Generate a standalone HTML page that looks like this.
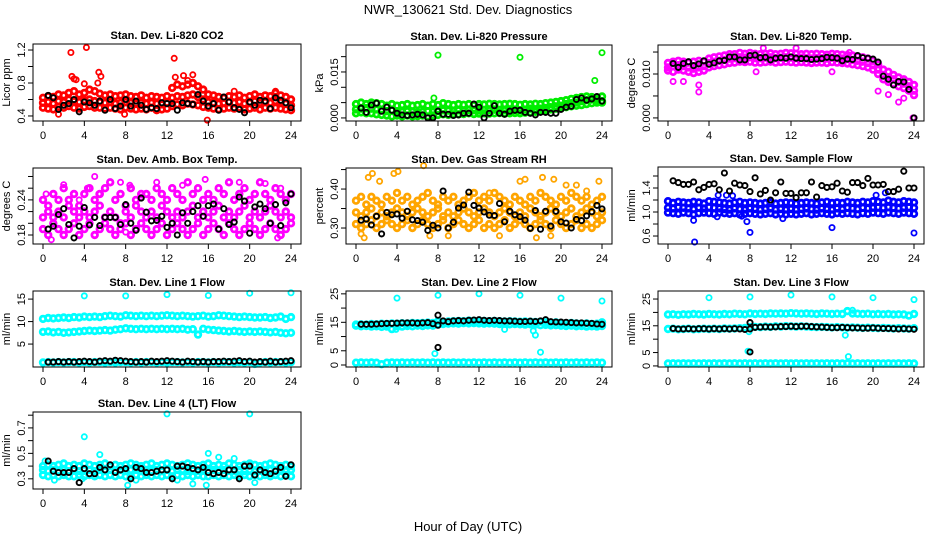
<!DOCTYPE html>
<html><head><meta charset="utf-8"><style>
html,body{margin:0;padding:0;background:#fff;}
svg{display:block;font-family:"Liberation Sans",sans-serif;}
</style></head><body>
<svg id="chart" width="936" height="540" viewBox="0 0 936 540" xmlns="http://www.w3.org/2000/svg">
<text x="468" y="14" text-anchor="middle" font-size="13">NWR_130621  Std. Dev. Diagnostics</text>
<text x="468" y="531" text-anchor="middle" font-size="13">Hour of Day (UTC)</text>
</svg>
<script>
// ---- data ----
const xTicks = [0,4,8,12,16,20,24];

const co2Hi = [0.62,0.64,0.63,0.66,0.65,0.68,0.7,0.66,0.68,0.72,0.7,0.67,0.65,0.66,0.64,0.65,0.66,0.64,0.63,0.65,0.62,0.64,0.63,0.62,0.64,0.74,0.78,0.76,0.78,0.8,0.76,0.72,0.66,0.65,0.63,0.62,0.64,0.63,0.65,0.62,0.64,0.66,0.63,0.65,0.64,0.68,0.65,0.63,0.6];
const co2Mid = [0.56,0.57,0.55,0.58,0.57,0.6,0.58,0.57,0.59,0.6,0.58,0.57,0.56,0.57,0.55,0.56,0.57,0.56,0.55,0.56,0.55,0.56,0.55,0.54,0.56,0.62,0.64,0.63,0.65,0.66,0.63,0.6,0.57,0.56,0.55,0.56,0.57,0.56,0.57,0.55,0.56,0.58,0.56,0.57,0.56,0.58,0.57,0.55,0.53];
const co2Lo = [0.5,0.49,0.48,0.51,0.5,0.52,0.5,0.49,0.51,0.52,0.5,0.5,0.49,0.5,0.49,0.48,0.5,0.49,0.48,0.49,0.48,0.5,0.47,0.48,0.49,0.52,0.54,0.53,0.55,0.54,0.53,0.51,0.5,0.49,0.48,0.49,0.5,0.49,0.5,0.48,0.49,0.5,0.48,0.5,0.49,0.5,0.49,0.48,0.47];
const co2OutH = [2.7,4.2,5.4,5.6,2.8,12.7,12.8,13.6,14.5,4,5.3,15.9,1.5,7.9,18.5,22.5,3,3.2,14];
const co2OutV = [1.17,1.23,0.93,0.88,0.88,1.1,0.87,0.89,0.9,0.79,0.8,0.35,0.42,0.42,0.7,0.7,0.85,0.84,0.83];
const co2Blk = [0.65,0.62,0.48,0.53,0.55,0.6,0.45,0.57,0.56,0.53,0.58,0.47,0.6,0.49,0.52,0.6,0.52,0.58,0.53,0.48,0.5,0.49,0.56,0.55,0.55,0.47,0.56,0.55,0.54,0.66,0.58,0.52,0.55,0.47,0.63,0.57,0.5,0.48,0.44,0.57,0.53,0.59,0.58,0.49,0.62,0.59,0.56,0.5];

const prHi = [0.0045,0.005,0.0045,0.005,0.0048,0.0045,0.004,0.0045,0.004,0.0042,0.0045,0.004,0.0042,0.0045,0.004,0.0045,0.0042,0.0048,0.0045,0.0042,0.0045,0.0043,0.0045,0.0042,0.0045,0.0044,0.0046,0.0045,0.0044,0.0045,0.0046,0.0045,0.0043,0.0045,0.0044,0.0046,0.0045,0.0048,0.005,0.0052,0.0055,0.0058,0.0062,0.0065,0.0068,0.007,0.0068,0.0065,0.007];
const prMid = [0.0028,0.003,0.0032,0.003,0.0028,0.0025,0.0022,0.0025,0.0022,0.002,0.0022,0.002,0.0018,0.002,0.0022,0.002,0.0022,0.0025,0.0024,0.0022,0.0025,0.0024,0.0026,0.0025,0.0024,0.0026,0.0025,0.0027,0.0026,0.0025,0.0027,0.0026,0.0025,0.0027,0.003,0.0028,0.003,0.0032,0.0035,0.0038,0.004,0.0045,0.0048,0.005,0.0055,0.0058,0.006,0.0058,0.0055];
const prLo = [0.0015,0.0018,0.0015,0.0015,0.0012,0.001,0.0008,0.0005,0.0008,0.0005,0.0008,0.0005,0.0006,0.0008,0.0005,0.0008,0.001,0.0012,0.001,0.0012,0.0012,0.0013,0.0015,0.0013,0.0014,0.0015,0.0014,0.0015,0.0016,0.0014,0.0015,0.0016,0.0015,0.0017,0.0018,0.002,0.0022,0.0025,0.0028,0.003,0.0032,0.0035,0.0038,0.004,0.0042,0.0045,0.0048,0.005,0.005];
const prOutH = [8,16,23.3,24,7.6];
const prOutV = [0.0205,0.0198,0.0122,0.0213,0.0065];
const prBlk = [0.0032,0.0018,0.0042,0.0048,0.0022,0.0035,0.0025,0.0015,0.001,0.0008,0.001,0.0012,0.001,0,0,0.0022,0.0012,0.0012,0.0008,0.001,0.0015,0.0015,0.0045,0.0035,0,0.0015,0.004,0.0015,0.0012,0.0022,0.0025,0.0025,0.0018,0.0015,0.001,0.0018,0.0018,0.0015,0.0015,0.0028,0.0035,0.0038,0.006,0.0065,0.0058,0.0062,0.007,0.0055];

const tmHi = [0.0125,0.0128,0.013,0.0128,0.0126,0.0128,0.013,0.0128,0.0135,0.0138,0.014,0.0142,0.0145,0.0145,0.0148,0.0146,0.0148,0.0146,0.0145,0.0146,0.0147,0.0145,0.0146,0.0148,0.0147,0.0146,0.0145,0.0146,0.0145,0.0146,0.0145,0.0144,0.0146,0.0145,0.0144,0.0143,0.0142,0.014,0.0138,0.0135,0.013,0.0122,0.011,0.0105,0.0098,0.0092,0.0088,0.0082,0.0075];
const tmMid = [0.0115,0.0118,0.012,0.0118,0.0115,0.0112,0.0115,0.0118,0.0125,0.0128,0.013,0.0132,0.0135,0.0136,0.0138,0.0137,0.0138,0.0136,0.0136,0.0137,0.0138,0.0136,0.0137,0.0138,0.0137,0.0136,0.0137,0.0136,0.0135,0.0136,0.0136,0.0135,0.0137,0.0136,0.0135,0.0134,0.0132,0.013,0.0128,0.0125,0.012,0.011,0.0098,0.0092,0.0088,0.0082,0.0078,0.0072,0.0062];
const tmLo = [0.0108,0.0105,0.011,0.0108,0.0105,0.0102,0.0105,0.0108,0.0115,0.0118,0.012,0.0122,0.0125,0.0126,0.0128,0.0127,0.0128,0.0126,0.0126,0.0127,0.0128,0.0126,0.0127,0.0128,0.0127,0.0126,0.0127,0.0126,0.0125,0.0126,0.0126,0.0125,0.0127,0.0126,0.0125,0.0124,0.0122,0.012,0.0118,0.0115,0.011,0.01,0.0088,0.0082,0.0078,0.0072,0.0068,0.0062,0.0052];
const tmOutH = [0.5,1.5,3.0,3.0,8.6,9.3,12.5,16,20.5,21.5,22.5,23,24,23.9,17.7];
const tmOutV = [0.0083,0.0083,0.0059,0.0075,0.0105,0.0159,0.0159,0.0105,0.0061,0.0053,0.0036,0.0045,0,0,0.0149];
const tmBlk = [0.0124,0.0115,0.0124,0.0128,0.0119,0.0123,0.013,0.0122,0.0125,0.013,0.0131,0.0139,0.0139,0.0132,0.0132,0.0142,0.0143,0.0137,0.0138,0.0132,0.0136,0.0137,0.0136,0.0139,0.0136,0.0135,0.0135,0.0133,0.0134,0.0135,0.0138,0.0137,0.0136,0.013,0.0134,0.0133,0.0142,0.0137,0.0136,0.0134,0.0127,0.0095,0.0088,0.0075,0.0083,0.0082,0.0065,0.0];

const ambHi = [0.24,0.23,0.25,0.24,0.26,0.24,0.25,0.23,0.25,0.26,0.24,0.25,0.26,0.27,0.24,0.25,0.23,0.26,0.24,0.25,0.25,0.24,0.26,0.25,0.24,0.26,0.25,0.24,0.27,0.25,0.26,0.24,0.25,0.24,0.26,0.25,0.27,0.24,0.25,0.26,0.24,0.25,0.27,0.25,0.24,0.26,0.25,0.24,0.25];
const ambMid = [0.21,0.22,0.21,0.22,0.21,0.23,0.22,0.21,0.22,0.21,0.22,0.23,0.21,0.22,0.21,0.2,0.22,0.21,0.23,0.22,0.21,0.22,0.21,0.23,0.22,0.21,0.22,0.21,0.22,0.23,0.21,0.22,0.21,0.22,0.23,0.21,0.22,0.21,0.22,0.23,0.21,0.22,0.21,0.22,0.23,0.22,0.21,0.22,0.21];
const ambLo = [0.19,0.18,0.2,0.19,0.18,0.19,0.2,0.18,0.19,0.2,0.18,0.19,0.2,0.19,0.18,0.19,0.2,0.18,0.19,0.2,0.19,0.18,0.19,0.2,0.18,0.19,0.2,0.19,0.18,0.19,0.2,0.18,0.19,0.2,0.19,0.18,0.2,0.19,0.18,0.19,0.2,0.19,0.18,0.19,0.2,0.19,0.18,0.19,0.2];
const ambOutH = [0.3,0.8,2,4.3,5,5.4,7.5,8.4,11,13.5,15.7,19,21.5,22.7,23,8,3.5,9.5,14.5,18.5];
const ambOutV = [0.25,0.172,0.266,0.26,0.28,0.25,0.27,0.265,0.27,0.265,0.275,0.27,0.268,0.175,0.26,0.185,0.24,0.245,0.25,0.24];
const ambBlk = [0.19,0.195,0.215,0.225,0.198,0.175,0.195,0.227,0.197,0.21,0.196,0.21,0.21,0.21,0.198,0.232,0.2,0.188,0.243,0.219,0.204,0.205,0.212,0.193,0.2,0.18,0.218,0.2,0.22,0.23,0.212,0.23,0.233,0.19,0.225,0.198,0.202,0.245,0.238,0.183,0.228,0.233,0.225,0.2,0.232,0.196,0.235,0.25];

const rhHi = [0.37,0.38,0.36,0.38,0.37,0.36,0.38,0.37,0.39,0.37,0.38,0.36,0.37,0.38,0.39,0.37,0.36,0.38,0.37,0.38,0.36,0.37,0.38,0.39,0.37,0.38,0.37,0.39,0.38,0.37,0.36,0.38,0.37,0.36,0.38,0.37,0.39,0.38,0.37,0.36,0.38,0.37,0.39,0.38,0.37,0.38,0.36,0.37,0.38];
const rhMid = [0.34,0.33,0.34,0.35,0.33,0.34,0.33,0.34,0.35,0.34,0.33,0.34,0.35,0.34,0.33,0.34,0.35,0.33,0.34,0.33,0.34,0.35,0.34,0.33,0.34,0.35,0.34,0.33,0.34,0.35,0.34,0.33,0.34,0.33,0.35,0.34,0.33,0.34,0.35,0.34,0.33,0.34,0.35,0.33,0.34,0.35,0.34,0.33,0.34];
const rhLo = [0.31,0.3,0.31,0.32,0.3,0.31,0.32,0.31,0.3,0.31,0.32,0.3,0.31,0.32,0.31,0.3,0.31,0.32,0.3,0.31,0.32,0.31,0.3,0.31,0.32,0.3,0.31,0.3,0.31,0.32,0.3,0.31,0.32,0.31,0.3,0.31,0.32,0.31,0.3,0.32,0.31,0.3,0.31,0.32,0.3,0.31,0.3,0.31,0.32];
const rhOutH = [0.5,0.8,1.2,1.6,2.3,3.7,4.1,6.6,7.2,9,13,16,16.5,17.6,18.2,19.3,20.5,21.5,22.5,23.7,14,19];
const rhOutV = [0.285,0.275,0.43,0.44,0.42,0.44,0.445,0.46,0.28,0.28,0.39,0.42,0.425,0.275,0.43,0.425,0.41,0.41,0.395,0.42,0.28,0.28];
const rhBlk = [0.32,0.323,0.308,0.33,0.285,0.34,0.334,0.336,0.325,0.343,0.321,0.319,0.315,0.294,0.307,0.3,0.395,0.3,0.315,0.351,0.359,0.392,0.358,0.351,0.341,0.333,0.332,0.363,0.316,0.343,0.334,0.329,0.32,0.299,0.345,0.297,0.343,0.305,0.343,0.316,0.313,0.3,0.322,0.319,0.331,0.342,0.358,0.349];

const sfHi = [1.18,1.15,1.17,1.16,1.15,1.17,1.16,1.14,1.18,1.17,1.16,1.15,1.14,1.16,1.17,1.15,1.16,1.15,1.14,1.15,1.16,1.14,1.15,1.16,1.15,1.14,1.15,1.16,1.15,1.14,1.16,1.17,1.15,1.16,1.15,1.17,1.16,1.15,1.17,1.16,1.18,1.17,1.16,1.19,1.17,1.16,1.18,1.17,1.16];
const sfMid = [1.07,1.06,1.08,1.07,1.06,1.05,1.07,1.06,1.08,1.07,1.06,1.05,1.04,1.06,1.05,1.04,1.06,1.05,1.04,1.05,1.06,1.04,1.05,1.04,1.05,1.04,1.05,1.06,1.05,1.04,1.06,1.05,1.04,1.06,1.05,1.07,1.06,1.05,1.07,1.06,1.07,1.08,1.07,1.08,1.07,1.06,1.07,1.08,1.07];
const sfLo = [0.99,0.98,0.97,0.99,0.98,0.96,0.98,0.99,0.98,0.97,0.99,0.98,0.97,0.98,0.96,0.97,0.98,0.97,0.96,0.97,0.98,0.96,0.97,0.96,0.97,0.96,0.97,0.98,0.96,0.97,0.98,0.97,0.96,0.98,0.97,0.98,0.97,0.96,0.98,0.97,0.99,0.98,0.97,0.99,0.98,0.97,0.99,0.98,0.97];
const sfOutH = [2.6,2.5,7.7,8,16,24,4.8,7.2,4.9,5.7,6.3,21.2,20.3,11.2];
const sfOutV = [0.5,0.86,0.84,0.66,0.74,0.65,0.92,0.93,1.28,1.28,1.27,1.32,1.28,0.89];
const sfBlk = [1.52,1.49,1.46,1.46,1.5,1.37,1.41,1.46,1.47,1.37,1.65,1.35,1.48,1.45,1.44,1.34,1.57,1.3,1.36,1.2,1.32,1.5,1.31,1.31,1.24,1.32,1.32,1.5,1.25,1.44,1.41,1.42,1.48,1.35,1.33,1.49,1.49,1.44,1.56,1.45,1.45,1.46,1.34,1.34,1.38,1.68,1.4,1.4];

const l1Hi = [10.6,10.8,10.7,10.8,10.9,10.8,11,10.9,11.1,11,11.1,11,11.2,11.3,11.2,11.1,11.4,11.3,11.2,11.3,11.2,11.3,11.2,11.3,11.4,11.3,11.2,11.3,11.2,11.1,11.2,11.3,11.1,11.2,11.4,11.3,11.2,11.1,11,11.1,11,10.9,10.9,11,10.8,10.9,11.1,10.6,11];
const l1Mid = [7.7,7.8,7.6,7.7,7.5,7.6,7.7,7.8,7.9,8,7.9,8,8.1,8,8.2,8.3,8.5,8.4,8.3,8.4,8.3,8.4,8.3,8.4,8.3,8.4,8.3,8.4,8.2,8.3,7.1,8.4,8.2,8.1,8,7.9,7.8,7.9,7.8,7.7,7.8,7.7,7.8,7.7,7.6,7.7,7.5,7.4,7.5];
const l1Lo = [0.9,1.0,0.9,1.0,0.9,1.0,1.0,0.9,1.0,0.9,1.0,1.0,0.9,1.0,0.9,1.0,1.0,0.9,1.0,0.9,1.0,1.0,0.9,1.0,0.9,1.0,1.0,0.9,1.0,0.9,1.0,1.0,0.9,1.0,0.9,1.0,1.0,0.9,1.0,0.9,1.0,0.6,0.9,1.0,0.9,1.0,1.0,0.9,1.0];
const l1OutH = [4,8,12,16,20,24];
const l1OutV = [15.7,15.7,16,15.8,16.3,16.4];
const l1Blk = [1.0,1.0,1.1,1.0,1.1,1.0,1.1,1.2,1.1,1.0,1.2,1.3,1.2,1.4,1.3,1.2,1.1,1.0,1.1,1.0,1.2,1.1,1.2,1.3,1.2,1.1,1.0,1.2,1.1,1.0,1.1,1.0,1.1,1.1,1.2,1.1,1.2,1.3,1.1,1.2,1.0,1.1,1.0,1.2,1.0,1.1,1.2,1.3];

const l2Hi = [14.2,14.3,14.2,14.4,14.3,14.5,14.4,14.6,14.5,14.7,14.6,14.8,14.7,14.8,14.9,14.8,15.4,15.2,15.3,15.4,15.5,15.4,15.6,15.5,15.6,15.5,15.4,15.5,15.4,15.3,15.4,15.3,15.2,15.3,15.2,15.1,15.2,15.0,14.9,15.0,14.8,14.7,14.8,14.6,14.5,14.6,14.4,14.5,15.0];
const l2Mid = [13.8,13.6,13.7,13.5,13.6,13.4,13.5,12.6,13.6,13.5,13.7,13.6,13.8,13.7,13.9,13.8,14.2,14.4,14.5,14.6,14.5,14.7,14.6,14.7,14.6,14.5,14.6,14.5,14.4,14.5,14.3,14.4,14.3,14.2,14.3,14.2,14.0,14.1,13.9,14.0,13.8,13.7,13.8,13.6,13.7,13.5,13.6,13.5,13.7];
const l2Lo = [0.8,0.9,0.8,0.9,0.8,0.3,0.8,0.9,0.8,0.9,0.8,0.9,0.8,0.9,0.8,0.9,0.8,0.9,0.8,0.9,0.8,0.9,0.8,0.9,0.8,0.9,0.8,0.9,0.8,0.9,0.8,0.9,0.8,0.9,0.8,0.9,0.8,0.9,0.8,0.9,0.8,0.9,0.8,0.9,0.8,0.9,0.8,0.9,0.8];
const l2OutH = [4,8,12,16,20,24,7.7,18,17.5,17.3,14.5,3.9];
const l2OutV = [23.5,24.5,25,24.5,23.5,22.5,4,4.5,10.5,12,12.5,12.5];
const l2Blk = [14.3,14.3,14.3,14.4,14.5,14.6,14.6,14.7,14.8,14.8,14.8,14.7,14.8,14.9,14.5,14,15.5,15.2,15.5,15.6,15.5,15.7,15.8,15.9,15.7,15.6,15.7,15.6,15.5,15.5,15.4,15.3,15.3,15.4,15.3,15.5,15.9,15.2,15.1,15.1,15,14.9,14.8,14.8,14.7,14.6,14.4,14.3];
const l2BlkOutH = [8,8];
const l2BlkOutV = [17.5,6.2];

const l3Hi = [19.2,19.3,19.1,19.3,19.2,19.4,19.3,19.2,19.4,19.3,19.2,19.4,19.3,19.5,19.4,19.3,19.6,19.4,19.5,19.4,19.6,19.5,19.6,19.5,19.7,19.6,19.5,19.6,19.5,19.4,19.6,19.5,19.4,19.5,19.4,20.5,19.6,19.5,19.4,19.5,19.3,19.4,19.3,19.4,19.2,19.3,19.2,18.8,19.4];
const l3Mid = [13.8,13.9,13.7,13.8,13.9,13.7,13.8,13.9,13.8,13.9,13.8,14.0,13.9,14.0,14.1,14.2,14.5,14.6,14.5,14.7,14.6,14.8,14.7,14.9,14.8,14.7,14.8,14.7,14.6,14.5,14.6,14.5,14.4,14.5,14.4,14.3,14.4,14.3,14.2,14.3,14.2,14.1,14.2,14.1,14.0,14.1,14.0,13.9,14.1];
const l3Lo = [0.9,1.0,0.9,1.0,0.9,1.0,0.9,1.0,0.9,1.0,0.9,1.0,0.9,1.0,0.9,1.0,0.9,1.0,0.9,1.0,0.9,1.0,0.9,1.0,0.9,1.0,0.9,1.0,0.9,1.0,0.9,1.0,0.9,1.0,0.9,1.0,0.9,1.0,0.9,1.0,0.9,1.0,0.9,1.0,0.9,1.0,0.9,1.0,0.9];
const l3OutH = [4,8,12,16,20,24,7.8,7.9,17.3,17.6,17.5,18];
const l3OutV = [25.5,25.8,26.5,25.8,25.5,24.8,5.5,12.8,11.5,3.5,20.5,20.8];
const l3Blk = [14.0,13.8,13.8,13.9,13.8,13.9,13.9,13.8,13.9,13.8,13.9,13.8,13.9,13.8,13.6,13.8,14.4,14.5,14.6,14.5,14.6,14.7,14.7,14.8,14.7,14.8,14.8,14.7,14.6,14.5,14.4,14.3,14.3,14.4,14.3,14.2,14.2,14.1,14.1,14.2,14.1,14.0,14.0,13.9,13.8,13.9,13.8,13.7];
const l3BlkOutH = [8,8];
const l3BlkOutV = [16.2,5.2];

const l4Hi = [0.4,0.41,0.4,0.41,0.42,0.4,0.41,0.4,0.42,0.41,0.4,0.41,0.42,0.4,0.41,0.4,0.41,0.42,0.41,0.4,0.41,0.42,0.4,0.41,0.42,0.41,0.4,0.41,0.42,0.41,0.4,0.41,0.42,0.4,0.41,0.4,0.42,0.41,0.4,0.41,0.42,0.41,0.4,0.41,0.42,0.41,0.4,0.41,0.4];
const l4Mid = [0.37,0.36,0.37,0.36,0.37,0.36,0.37,0.36,0.37,0.37,0.36,0.37,0.36,0.37,0.36,0.37,0.36,0.37,0.37,0.36,0.37,0.36,0.37,0.36,0.37,0.36,0.37,0.37,0.36,0.37,0.36,0.37,0.36,0.37,0.36,0.37,0.37,0.36,0.37,0.36,0.37,0.36,0.37,0.36,0.37,0.36,0.37,0.36,0.37];
const l4Lo = [0.33,0.32,0.33,0.32,0.33,0.32,0.32,0.33,0.32,0.33,0.32,0.33,0.32,0.33,0.32,0.33,0.32,0.32,0.33,0.32,0.33,0.32,0.33,0.32,0.33,0.32,0.33,0.32,0.33,0.32,0.33,0.32,0.32,0.33,0.32,0.33,0.32,0.33,0.32,0.33,0.32,0.33,0.32,0.33,0.32,0.33,0.32,0.33,0.32];
const l4OutH = [4,12,20,5.5,16,17,18.5,0.2,8.2,14.5,15.8,1.1,3.8,9,13,20.5];
const l4OutV = [0.63,0.81,0.81,0.49,0.5,0.47,0.46,0.44,0.25,0.26,0.25,0.29,0.3,0.29,0.29,0.27];
const l4Blk = [0.44,0.36,0.35,0.35,0.35,0.38,0.27,0.38,0.34,0.34,0.39,0.37,0.41,0.35,0.37,0.38,0.3,0.39,0.38,0.35,0.35,0.36,0.37,0.37,0.3,0.4,0.4,0.39,0.38,0.37,0.39,0.35,0.34,0.35,0.34,0.37,0.37,0.3,0.4,0.4,0.33,0.37,0.35,0.34,0.36,0.39,0.32,0.41];

// ---- panels ----
const panels = [
 {id:'co2', title:'Stan. Dev. Li-820 CO2', ylab:'Licor ppm', box:[33,44,301,121], dom:[0.339,1.273], ticks:[0.4,0.6,0.8,1.0,1.2], labs:[0.4,0.8,1.2], dec:1, col:'#ff0000', series:[co2Hi,co2Mid,co2Lo], oh:co2OutH, ov:co2OutV, blk:co2Blk},
 {id:'pressure', title:'Stan. Dev. Li-820 Pressure', ylab:'kPa', box:[346,45,612,121], dom:[-0.001,0.0238], ticks:[0,0.005,0.01,0.015,0.02], labs:[0,0.015], dec:3, col:'#00ee00', series:[prHi,prMid,prLo], oh:prOutH, ov:prOutV, blk:prBlk},
 {id:'temp', title:'Stan. Dev. Li-820 Temp.', ylab:'degrees C', box:[658,45,924,121], dom:[-0.0007,0.0166], ticks:[0,0.005,0.01,0.015], labs:[0,0.01], dec:3, col:'#ff00ff', series:[tmHi,tmMid,tmLo], oh:tmOutH, ov:tmOutV, blk:tmBlk},
 {id:'amb-box-temp', title:'Stan. Dev. Amb. Box Temp.', ylab:'degrees C', box:[33,168,301,244], dom:[0.1646,0.2945], ticks:[0.18,0.2,0.22,0.24,0.26,0.28], labs:[0.18,0.24], dec:2, col:'#ff00ff', series:[ambHi,ambMid,ambLo], oh:ambOutH, ov:ambOutV, blk:ambBlk},
 {id:'gas-rh', title:'Stan. Dev. Gas Stream RH', ylab:'percent', box:[346,168,612,244], dom:[0.259,0.454], ticks:[0.3,0.35,0.4,0.45], labs:[0.3,0.4], dec:2, col:'#ffa500', series:[rhHi,rhMid,rhLo], oh:rhOutH, ov:rhOutV, blk:rhBlk},
 {id:'sample-flow', title:'Stan. Dev. Sample Flow', ylab:'ml/min', box:[658,167,924,244], dom:[0.467,1.75], ticks:[0.6,0.8,1.0,1.2,1.4,1.6], labs:[0.6,1.0,1.4], dec:1, col:'#0000ff', series:[sfHi,sfMid,sfLo], oh:sfOutH, ov:sfOutV, blk:sfBlk},
 {id:'line1-flow', title:'Stan. Dev. Line 1 Flow', ylab:'ml/min', box:[33,291,301,367], dom:[-0.1,16.8], ticks:[5,10,15], labs:[5,10,15], dec:0, col:'#00ffff', series:[l1Hi,l1Mid,l1Lo], oh:l1OutH, ov:l1OutV, blk:l1Blk},
 {id:'line2-flow', title:'Stan. Dev. Line 2 Flow', ylab:'ml/min', box:[346,291,612,367], dom:[-0.7,26], ticks:[0,5,10,15,20,25], labs:[0,5,15,25], dec:0, col:'#00ffff', series:[l2Hi,l2Mid,l2Lo], oh:l2OutH, ov:l2OutV, blk:l2Blk, bh:l2BlkOutH, bv:l2BlkOutV},
 {id:'line3-flow', title:'Stan. Dev. Line 3 Flow', ylab:'ml/min', box:[658,291,924,367], dom:[-0.4,28], ticks:[0,5,10,15,20,25], labs:[0,5,15,25], dec:0, col:'#00ffff', series:[l3Hi,l3Mid,l3Lo], oh:l3OutH, ov:l3OutV, blk:l3Blk, bh:l3BlkOutH, bv:l3BlkOutV},
 {id:'line4-flow', title:'Stan. Dev. Line 4 (LT) Flow', ylab:'ml/min', box:[33,412,301,489], dom:[0.22,0.825], ticks:[0.3,0.4,0.5,0.6,0.7,0.8], labs:[0.3,0.5,0.7], dec:1, col:'#00ffff', series:[l4Hi,l4Mid,l4Lo], oh:l4OutH, ov:l4OutV, blk:l4Blk}
];

const NS='http://www.w3.org/2000/svg';
const svg=document.getElementById('chart');
function mk(tag,attrs,parent){const e=document.createElementNS(NS,tag);for(const k in attrs)e.setAttribute(k,attrs[k]);parent.appendChild(e);return e;}

panels.forEach(p=>{
  const [L,T,R,B]=p.box;
  const g=mk('g',{},svg);
  
  
  const xs=h=>L+10+h*(R-L-20)/24;
  const ys=v=>B-(v-p.dom[0])/(p.dom[1]-p.dom[0])*(B-T);
  const pts=mk('g',{fill:'none'},g);
  
  
  p.series.forEach(arr=>{
    const n=arr.length;
    arr.forEach((v,i)=>{
      const c=mk('circle',{cx:xs(i*24/(n-1)).toFixed(1),cy:ys(v).toFixed(1),r:2.8,stroke:p.col,'stroke-width':2.8},pts);
      
      
    });
  });
  p.oh.forEach((h,i)=>{
    const c=mk('circle',{cx:xs(h).toFixed(1),cy:ys(p.ov[i]).toFixed(1),r:2.6,stroke:p.col,'stroke-width':1.8},pts);
    
    
  });
  p.blk.forEach((v,i)=>{
    const c=mk('circle',{cx:xs(0.5*(i+1)).toFixed(1),cy:ys(v).toFixed(1),r:2.6,stroke:'#000','stroke-width':1.9},pts);
    
    
  });
  if(p.bh){p.bh.forEach((h,i)=>{
    const c=mk('circle',{cx:xs(h).toFixed(1),cy:ys(p.bv[i]).toFixed(1),r:2.6,stroke:'#000','stroke-width':1.9},pts);
    
    
  });}
  const bx=mk('rect',{x:L,y:T,width:R-L,height:B-T,fill:'none',stroke:'#000','stroke-width':1},g);
  
  
  const t=mk('text',{x:(L+R)/2,y:T-5,'text-anchor':'middle','font-size':11,'font-weight':'bold'},g);
  t.textContent=p.title;
  
  
  const xa=mk('g',{'font-size':11,'text-anchor':'middle'},g);
  
  
  xTicks.forEach(h=>{
    mk('line',{x1:xs(h),x2:xs(h),y1:B,y2:B+5,stroke:'#000'},xa);
    const tx=mk('text',{x:xs(h),y:B+18},xa);
    tx.textContent=h;
    
    
  });
  const ya=mk('g',{'font-size':11,'text-anchor':'middle'},g);
  
  
  p.ticks.forEach(v=>{mk('line',{x1:L-5,x2:L,y1:ys(v),y2:ys(v),stroke:'#000'},ya);});
  p.labs.forEach(v=>{
    const y=ys(v);
    const tx=mk('text',{x:L-8,y:y,transform:`rotate(-90 ${L-8} ${y})`},ya);
    tx.textContent=v.toFixed(p.dec);
    
    
  });
  const yl=mk('text',{x:L-23,y:(T+B)/2,'font-size':11,'text-anchor':'middle',transform:`rotate(-90 ${L-23} ${(T+B)/2})`},g);
  yl.textContent=p.ylab;
  
  
});
</script>
</body></html>
